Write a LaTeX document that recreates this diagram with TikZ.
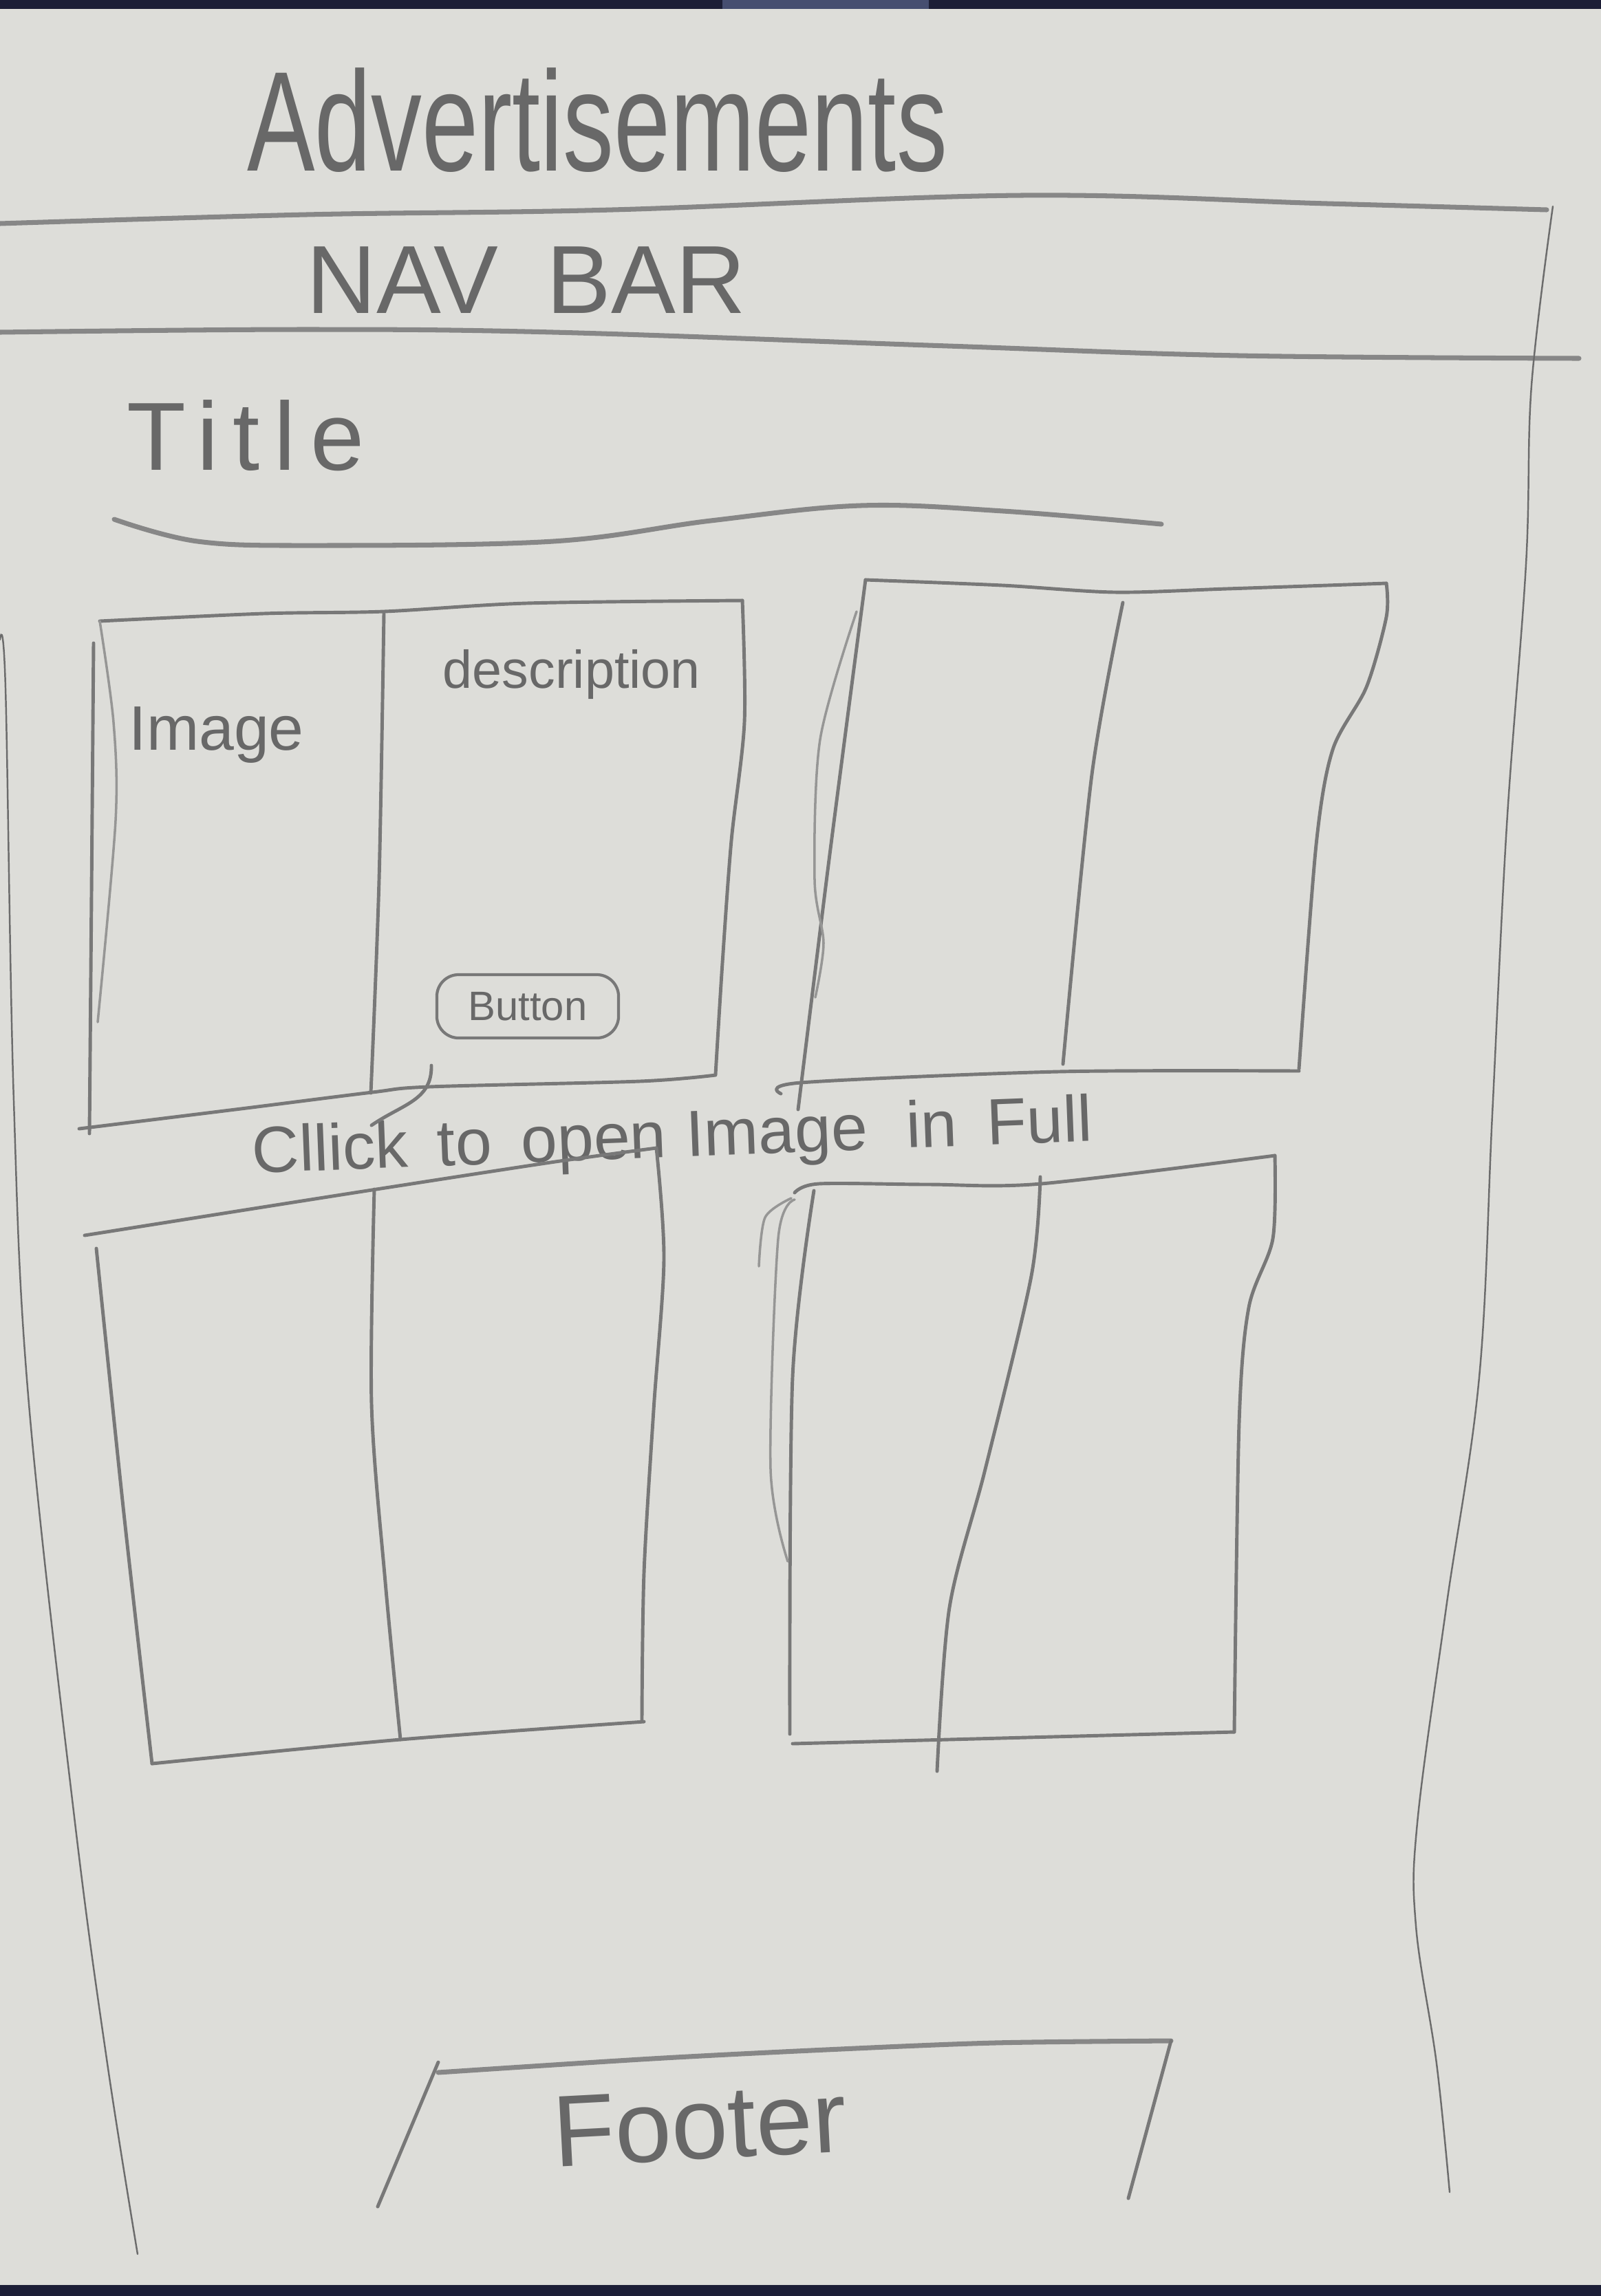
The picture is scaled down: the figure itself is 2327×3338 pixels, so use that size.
\documentclass[tikz,border=0pt]{standalone}
\usepackage{fontspec}
\setmainfont{Liberation Sans}
\definecolor{paper}{RGB}{221,221,217}
\definecolor{pencil}{RGB}{120,120,120}
\definecolor{lead}{RGB}{104,104,104}
\definecolor{desk}{RGB}{28,30,54}
\definecolor{glare}{RGB}{70,78,112}
\begin{document}
\begin{tikzpicture}[x=0.01cm,y=-0.01cm,
  stroke/.style={draw=pencil,line width=1.4pt,line cap=round,line join=round},
  ghost/.style={draw=pencil!70!paper,line width=1pt,line cap=round},
  edge/.style={draw=pencil!90!black,line width=0.7pt,line cap=round},
  band/.style={draw=pencil!85!paper,line width=2pt,line cap=round},
  hand/.style={text=lead,inner sep=0pt}]
% sheet of paper with the desk showing above and below
\fill[paper] (0,0) rectangle (2327,3338);
\fill[desk] (0,0) rectangle (2327,13);
\fill[glare] (1050,0) rectangle (1350,13);
\fill[desk] (0,3322) rectangle (2327,3338);
\useasboundingbox (0,0) rectangle (2327,3338);

% page heading
\node[hand,anchor=base,font=\fontsize{42}{42}\selectfont] (heading) at (868,248)
  {\scalebox{1}[1.4]{Advertisements}};

% page frame: navigation strip and side borders
\draw[band] plot[smooth,tension=0.6] coordinates {(0,325) (445,312) (890,305) (1484,284) (1929,296) (2248,305)};
\draw[band] plot[smooth,tension=0.6] coordinates {(0,483) (436,479) (804,483) (1378,503) (1800,517) (2295,521)};
\draw[edge] plot[smooth,tension=0.6] coordinates {(2257,300) (2226,560) (2218,820) (2190,1200) (2169,1620) (2150,2002) (2102,2337) (2060,2650) (2058,2800) (2088,3000) (2107,3187)};
\draw[edge] plot[smooth,tension=0.6] coordinates {(0,930) (8,1000) (20,1600) (42,2041) (109,2650) (156,3000) (200,3277)};
\node[hand,anchor=base west,font=\fontsize{40}{40}\selectfont] (nav) at (445,455) {NAV\hspace{0.5em}BAR};

% section title with its underline
\node[hand,anchor=base west,font=\fontsize{40}{40}\selectfont\addfontfeatures{LetterSpace=15}] (title) at (184,683) {Title};
\draw[band] plot[smooth,tension=0.6] coordinates {(166,755) (287,787) (459,793) (804,787) (1033,757) (1251,735) (1458,743) (1688,762)};

% card 1: image | description + button
\draw[stroke] plot[smooth,tension=0.5] coordinates {(145,903) (383,892) (558,889) (765,877) (1079,873)};
\draw[stroke] plot[smooth,tension=0.5] coordinates {(1079,873) (1082,1050) (1063,1222) (1050,1400) (1040,1562)};
\draw[stroke] plot[smooth,tension=0.5] coordinates {(115,1641) (350,1612) (541,1588) (624,1580) (930,1572) (1040,1563)};
\draw[ghost] plot[smooth,tension=0.5] coordinates {(145,903) (165,1050) (168,1193) (142,1486)};
\draw[stroke] plot[smooth,tension=0.5] coordinates {(136,935) (133,1300) (130,1648)};
\draw[stroke] plot[smooth,tension=0.5] coordinates {(558,892) (551,1279) (539,1589)};
\node[hand,anchor=base west,font=\fontsize{26}{26}\selectfont] (imglabel) at (187,1090) {Image};
\node[hand,anchor=base west,font=\fontsize{22}{22}\selectfont] (desclabel) at (643,1000) {description};
\node[draw=pencil,line width=1.2pt,rounded corners=9pt,minimum width=2.64cm,minimum height=0.92cm,
  text=lead,inner sep=0pt,font=\fontsize{17}{17}\selectfont] (button) at (767,1463) {Button};

% note below the first card
\coordinate (tailtop) at (627,1549);
\node[hand,anchor=base,rotate=2.2,font=\fontsize{27}{27}\selectfont] (note) at (978,1682)
  {Cllick\hspace{0.45em}to\hspace{0.45em}open\hspace{0.3em}Image\hspace{0.6em}in\hspace{0.45em}Full};
\draw[stroke] (tailtop) .. controls (628,1600) and (585,1605) .. (540,1636);

% card 2
\draw[stroke] plot[smooth,tension=0.5] coordinates {(1258,843) (1457,851) (1620,861) (1783,856) (2015,848)};
\draw[stroke] plot[smooth,tension=0.5] coordinates {(2015,848) (2015,897) (1986,999) (1937,1090) (1913,1228) (1888,1554)};
\draw[stroke] plot[smooth,tension=0.5] coordinates {(1135,1590) (1164,1574) (1538,1558) (1888,1557)};
\draw[stroke] plot[smooth,tension=0.5] coordinates {(1258,843) (1205,1250) (1160,1613)};
\draw[ghost] plot[smooth,tension=0.5] coordinates {(1245,889) (1192,1075) (1184,1279) (1197,1371) (1185,1450)};
\draw[stroke] plot[smooth,tension=0.5] coordinates {(1632,876) (1587,1126) (1545,1547)};

% card 3
\draw[stroke] plot[smooth,tension=0.5] coordinates {(123,1796) (350,1760) (547,1729) (800,1690) (954,1669)};
\draw[stroke] plot[smooth,tension=0.5] coordinates {(954,1669) (965,1831) (950,2050) (936,2287) (933,2500)};
\draw[stroke] plot[smooth,tension=0.5] coordinates {(221,2564) (582,2529) (936,2503)};
\draw[stroke] plot[smooth,tension=0.5] coordinates {(140,1815) (180,2200) (221,2564)};
\draw[stroke] plot[smooth,tension=0.5] coordinates {(544,1729) (540,2041) (560,2300) (582,2529)};

% card 4
\draw[stroke] plot[smooth,tension=0.5] coordinates {(1155,1734) (1190,1721) (1350,1722) (1513,1721) (1853,1680)};
\draw[stroke] plot[smooth,tension=0.5] coordinates {(1853,1680) (1850,1801) (1815,1901) (1801,2069) (1794,2518)};
\draw[stroke] plot[smooth,tension=0.5] coordinates {(1152,2535) (1794,2518)};
\draw[stroke] plot[smooth,tension=0.5] coordinates {(1183,1731) (1152,2002) (1148,2521)};
\draw[ghost] plot[smooth,tension=0.5] coordinates {(1155,1744) (1131,1801) (1120,2136) (1145,2270)};
\draw[ghost] plot[smooth,tension=0.5] coordinates {(1103,1841) (1112,1770) (1150,1742)};
\draw[stroke] plot[smooth,tension=0.5] coordinates {(1512,1711) (1499,1855) (1432,2136) (1380,2337) (1362,2575)};

% footer
\draw[band] plot[smooth,tension=0.5] coordinates {(637,3013) (947,2993) (1200,2980) (1445,2970) (1702,2967)};
\draw[stroke] (637,2998) -- (549,3208);
\draw[stroke] (1702,2967) -- (1640,3196);
\node[hand,anchor=base west,rotate=3,font=\fontsize{42}{42}\selectfont] (footer) at (806,3150) {Footer};
\end{tikzpicture}
\end{document}
